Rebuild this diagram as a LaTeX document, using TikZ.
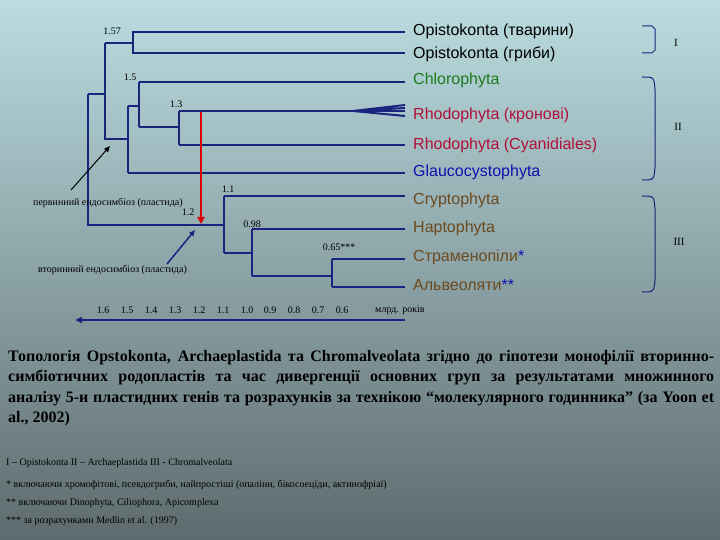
\documentclass[tikz,border=0pt]{standalone}
\usepackage{fontspec}
\setmainfont{Liberation Serif}
\newfontfamily\lsans{Liberation Sans}
\usetikzlibrary{arrows.meta}
\definecolor{navy}{HTML}{1A237E}
\definecolor{grn}{HTML}{1E7A1E}
\definecolor{rd}{HTML}{B0103A}
\definecolor{bl}{HTML}{1010B0}
\definecolor{brn}{HTML}{6B4A1E}
\definecolor{bgtop}{HTML}{BADCE0}
\definecolor{bgbot}{HTML}{5E6B6E}
\tikzset{br/.style={navy,line width=2pt},
 leaf/.style={anchor=west,font=\lsans\fontsize{16}{18}\selectfont,inner sep=0pt},
 sm/.style={font=\fontsize{10}{12}\selectfont,inner sep=0pt},
 rom/.style={font=\fontsize{11}{12}\selectfont,inner sep=0pt}}
\begin{document}
\begin{tikzpicture}[x=1pt,y=-1pt]
\useasboundingbox (0,0) rectangle (720,540);
\shade[top color=bgtop,bottom color=bgbot] (0,0) rectangle (720,540);
% tree
\draw[br] (133,32)--(405,32) (133,53)--(405,53) (133,31)--(133,54);
\draw[br] (105,43)--(133,43) (105,43)--(105,139)--(128,139);
\draw[br] (128,106)--(128,173) (128,106)--(139,106) (139,82)--(139,127) (139,82)--(405,82);
\draw[br] (139,127)--(179,127) (179,111)--(179,145) (179,111)--(405,111) (179,145)--(405,145);
\draw[br] (128,173)--(405,173);
\draw[br] (88,94)--(105,94) (88,94)--(88,225)--(224,225);
\draw[br] (224,196)--(224,253) (224,196)--(405,196) (224,253)--(252,253);
\draw[br] (252,229)--(252,276) (252,229)--(405,229) (252,276)--(332,276);
\draw[br] (332,259)--(332,287) (332,259)--(405,259) (332,287)--(405,287);
\draw[navy,line width=2pt] (353,111)--(405,105) (353,111)--(405,108) (353,111)--(405,116);
\draw[red!85!black,line width=2.5pt,-{Triangle[length=7pt,width=7pt]}] (201,112)--(201,224);
% nodes
\node[sm] (a) at (112,31) {1.57};
\node[sm] (b) at (130,77) {1.5};
\node[sm] (c) at (176,104) {1.3};
\node[sm] (d) at (228,189) {1.1};
\node[sm] (e) at (188,212) {1.2};
\node[sm] (f) at (252,224) {0.98};
\node[sm] (g) at (339,247) {0.65***};
\node[sm,anchor=west] (p) at (33,203) {первинний ендосимбіоз (пластида)};
\node[sm,anchor=west] (s) at (38,270) {вторинний ендосимбіоз (пластида)};
\coordinate (pa) at (71,190); \coordinate (pb) at (110,146);
\coordinate (sa) at (167,264); \coordinate (sb) at (195,230);
\draw[black,line width=1pt,-{Triangle[length=6pt,width=5pt]}] (pa)--(pb);
\draw[navy,line width=1.5pt,-{Triangle[length=6pt,width=5pt]}] (sa)--(sb);
\node[leaf] (l1) at (413,31) {Opistokonta (тварини)};
\node[leaf] (l2) at (413,54) {Opistokonta (гриби)};
\node[leaf,grn] (l3) at (413,80) {Chlorophyta};
\node[leaf,rd] (l4) at (413,115) {Rhodophyta (кронові)};
\node[leaf,rd] (l5) at (413,145) {Rhodophyta (Cyanidiales)};
\node[leaf,bl] (l6) at (413,172) {Glaucocystophyta};
\node[leaf,brn] (l7) at (413,200) {Cryptophyta};
\node[leaf,brn] (l8) at (413,228) {Haptophyta};
\node[leaf,brn] (l9) at (413,257) {Страменопіли\textcolor{bl}{*}};
\node[leaf,brn] (l10) at (413,285) {Альвеоляти\textcolor{bl}{**}};
% brackets
\draw[navy,line width=1pt] (642,26)--(652,26)--(655,29)--(655,50)--(652,53)--(642,53);
\draw[navy,line width=1pt] (642,77) .. controls (654,77) .. (655,90)--(655,167) .. controls (654,180) .. (642,180);
\draw[navy,line width=1pt] (642,196) .. controls (654,196) .. (655,209)--(655,279) .. controls (654,292) .. (642,292);
\node[rom] (r1) at (676,43) {I};
\node[rom] (r2) at (678,127) {II};
\node[rom] (r3) at (679,242) {III};
% axis
\coordinate (ax1) at (405,320); \coordinate (ax0) at (75,320);
\draw[navy,line width=2pt,-{Triangle[length=7pt,width=6pt]}] (ax1)--(ax0);
\foreach \t/\x in {1.6/103,1.5/127,1.4/151,1.3/175,1.2/199,1.1/223,1.0/247,0.9/270,0.8/294,0.7/318,0.6/342}
  \node[sm] at (\x,310) {\t};
\node[sm,anchor=west] (mr) at (375,310) {млрд. років};
% caption
\node[anchor=north west,text width=706pt,align=justify,inner sep=0pt,font=\bfseries\fontsize{16}{20.5}\selectfont] (cap) at (8,350)
{Топологія Opstokonta, Archaeplastida та Chromalveolata згідно до гіпотези монофілії вторинно-\break симбіотичних родопластів та час дивергенції основних груп за результатами множинного\break аналізу 5-и пластидних генів та розрахунків за технікою “молекулярного годинника” (за Yoon et\break al., 2002)};
\node[sm,anchor=west] (n1) at (6,463) {I – Opistokonta II – Archaeplastida III - Chromalveolata};
\node[sm,anchor=west] (n2) at (6,485) {* включаючи хромофітові, псевдогриби, найпростіші (опаліни, бікосоеціди, актинофріаї)};
\node[sm,anchor=west] (n3) at (6,503) {** включаючи Dinophyta, Ciliophora, Apicomplexa};
\node[sm,anchor=west] (n4) at (6,521) {*** за розрахунками Medlin et al. (1997)};
\end{tikzpicture}
\end{document}
